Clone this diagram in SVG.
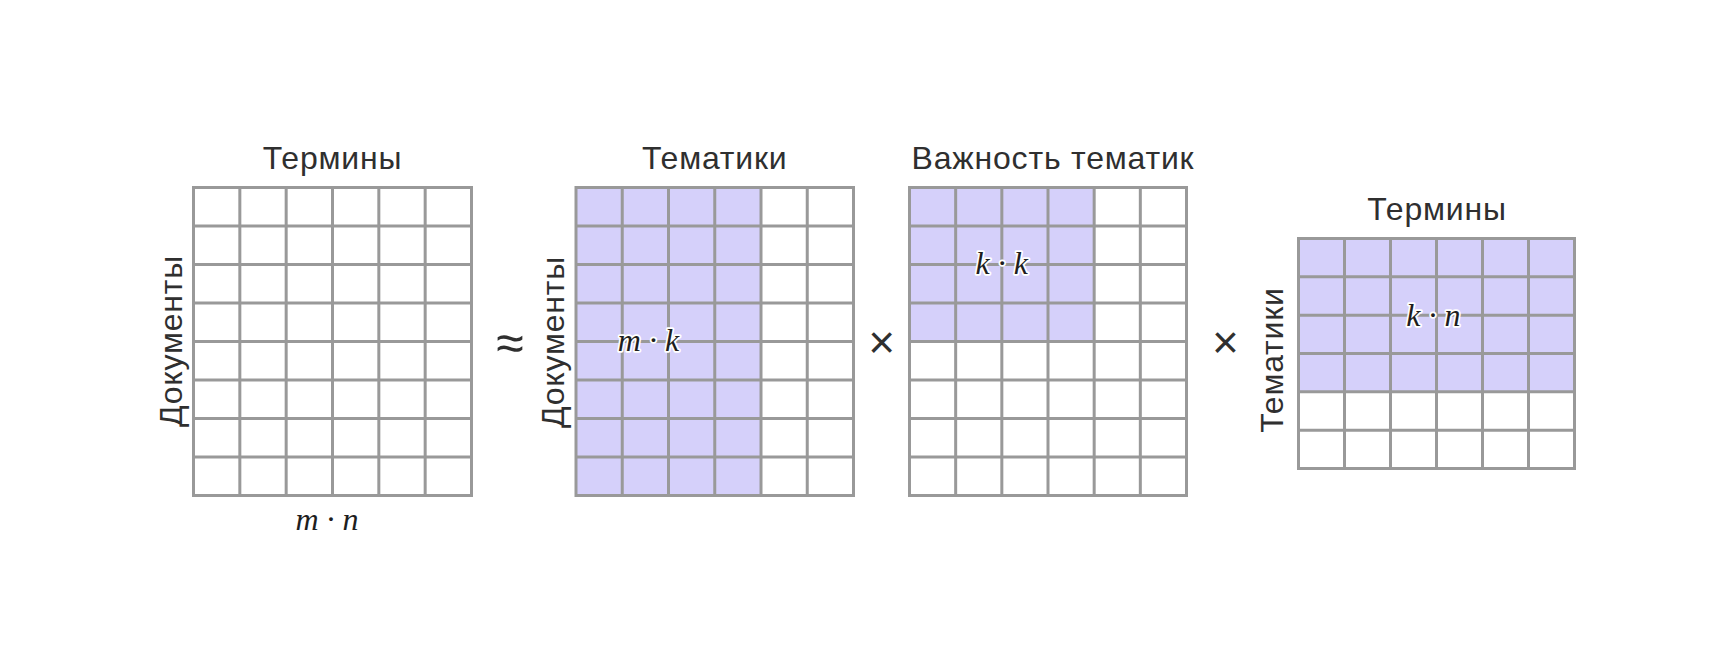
<svg xmlns="http://www.w3.org/2000/svg" width="1724" height="671" viewBox="0 0 1724 671">
<style>
.bg{fill:#ffffff}
.fill{fill:#D5D0FA}
.grid{fill:none;stroke:#999999;stroke-width:3;stroke-linecap:square}
.lbl{font-family:"Liberation Sans",Arial,sans-serif;font-size:32px;fill:#2f2f2f;text-anchor:middle;letter-spacing:0.8px}
.math{font-family:"Liberation Serif","Times New Roman",serif;font-style:italic;font-size:32px;fill:#1e1e1e;text-anchor:middle}
.halo{stroke:#ffffff;stroke-width:3.5px;stroke-linejoin:round;paint-order:stroke}
.op{font-family:"Liberation Sans",Arial,sans-serif;fill:#2f2f2f;text-anchor:middle}
</style>
<rect class="bg" x="0" y="0" width="1724" height="671"/>

<g id="matrix-terms-docs">
<path class="grid" d="M193.5 187.5V495.5M239.83 187.5V495.5M286.17 187.5V495.5M332.5 187.5V495.5M378.83 187.5V495.5M425.17 187.5V495.5M471.5 187.5V495.5M193.5 187.5H471.5M193.5 226H471.5M193.5 264.5H471.5M193.5 303H471.5M193.5 341.5H471.5M193.5 380H471.5M193.5 418.5H471.5M193.5 457H471.5M193.5 495.5H471.5"/>
<text class="lbl" x="332.5" y="169">Термины</text>
<text class="lbl" transform="translate(182,341) rotate(-90)">Документы</text>
<text class="math" x="327" y="530">m · n</text>
</g>

<g id="op-approx">
<text class="op" x="510" y="360" font-size="50">≈</text>
</g>

<g id="matrix-docs-topics">
<rect class="fill" x="576" y="187.5" width="185" height="308"/>
<path class="grid" d="M576 187.5V495.5M622.25 187.5V495.5M668.5 187.5V495.5M714.75 187.5V495.5M761 187.5V495.5M807.25 187.5V495.5M853.5 187.5V495.5M576 187.5H853.5M576 226H853.5M576 264.5H853.5M576 303H853.5M576 341.5H853.5M576 380H853.5M576 418.5H853.5M576 457H853.5M576 495.5H853.5"/>
<text class="lbl" x="714.75" y="169">Тематики</text>
<text class="lbl" transform="translate(564,342) rotate(-90)">Документы</text>
<text class="math halo" x="648.5" y="351">m · k</text>
</g>

<g id="op-times-1">
<text class="op" x="881.7" y="358" font-size="46">×</text>
</g>

<g id="matrix-topic-weights">
<rect class="fill" x="909.5" y="187.5" width="184.67" height="154"/>
<path class="grid" d="M909.5 187.5V495.5M955.67 187.5V495.5M1001.83 187.5V495.5M1048 187.5V495.5M1094.17 187.5V495.5M1140.33 187.5V495.5M1186.5 187.5V495.5M909.5 187.5H1186.5M909.5 226H1186.5M909.5 264.5H1186.5M909.5 303H1186.5M909.5 341.5H1186.5M909.5 380H1186.5M909.5 418.5H1186.5M909.5 457H1186.5M909.5 495.5H1186.5"/>
<text class="lbl" x="1053" y="169">Важность тематик</text>
<text class="math halo" x="1001.7" y="273.5">k · k</text>
</g>

<g id="op-times-2">
<text class="op" x="1225.5" y="358" font-size="46">×</text>
</g>

<g id="matrix-topics-terms">
<rect class="fill" x="1298.5" y="238.5" width="276" height="153.33"/>
<path class="grid" d="M1298.5 238.5V468.5M1344.5 238.5V468.5M1390.5 238.5V468.5M1436.5 238.5V468.5M1482.5 238.5V468.5M1528.5 238.5V468.5M1574.5 238.5V468.5M1298.5 238.5H1574.5M1298.5 276.83H1574.5M1298.5 315.17H1574.5M1298.5 353.5H1574.5M1298.5 391.83H1574.5M1298.5 430.17H1574.5M1298.5 468.5H1574.5"/>
<text class="lbl" x="1437" y="220">Термины</text>
<text class="lbl" transform="translate(1283,360) rotate(-90)">Тематики</text>
<text class="math halo" x="1433.3" y="326">k · n</text>
</g>

<g id="connectors"></g>
</svg>
